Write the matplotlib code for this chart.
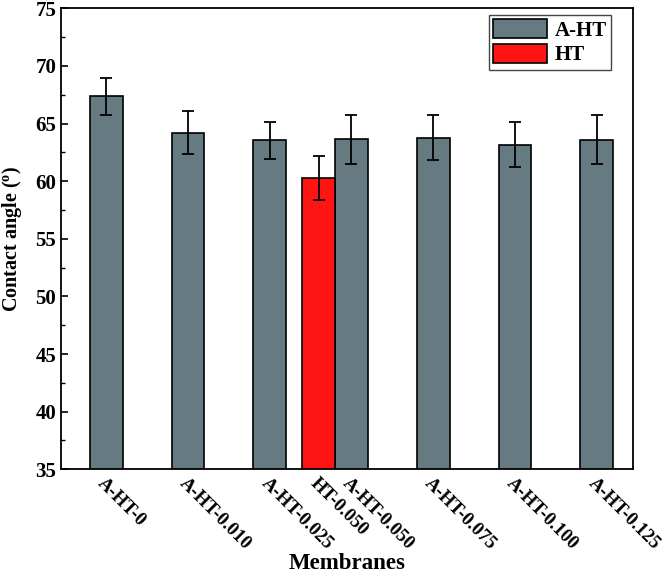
import matplotlib
matplotlib.use("Agg")
import matplotlib.pyplot as plt
from matplotlib.patches import Patch

plt.rcParams['font.family'] = ['Liberation Serif', 'DejaVu Serif']
plt.rcParams['font.weight'] = 'bold'
plt.rcParams['mathtext.fontset'] = 'custom'
plt.rcParams['mathtext.rm'] = 'Liberation Serif:bold'

# Data
a_ht_labels = ['A-HT-0', 'A-HT-0.010', 'A-HT-0.025', 'A-HT-0.050',
               'A-HT-0.075', 'A-HT-0.100', 'A-HT-0.125']
a_ht_values = [67.35, 64.2, 63.55, 63.63, 63.78, 63.15, 63.6]
a_ht_errors = [1.6, 1.88, 1.62, 2.1, 1.95, 1.96, 2.1]

ht_label = 'HT-0.050'
ht_value = 60.28
ht_error = 1.9
ht_slot = 3  # shares the slot of A-HT-0.050

gray = '#667a82'
red = '#ff1414'
width = 0.4

fig = plt.figure(figsize=(6.63, 5.73), dpi=100)
ax = fig.add_axes([0.092, 0.181, 0.863, 0.8045])

x = list(range(len(a_ht_labels)))
ax.bar(x, a_ht_values, width, yerr=a_ht_errors, color=gray, edgecolor='black',
       linewidth=1.2, error_kw=dict(elinewidth=1.3, capsize=4, capthick=1.3, ecolor='black'))
x_ht = ht_slot - width
ax.bar([x_ht], [ht_value], width, yerr=[ht_error], color=red, edgecolor='black',
       linewidth=1.2, error_kw=dict(elinewidth=1.3, capsize=4, capthick=1.3, ecolor='black'))

ax.set_ylim(35, 75)
ax.set_xlim(-0.554, 6.447)
ax.set_yticks(range(35, 76, 5))
ax.set_yticks([37.5 + 5 * i for i in range(8)], minor=True)
ax.tick_params(axis='y', which='both', direction='in', labelsize=15)
ax.tick_params(axis='y', which='major', length=5, width=1.2)
ax.tick_params(axis='y', which='minor', length=3, width=1.0)

ticks = x[:3] + [x_ht] + x[3:]
labels = a_ht_labels[:3] + [ht_label] + a_ht_labels[3:]
ax.set_xticks(ticks)
ax.set_xticklabels(labels, rotation=-45, ha='left', va='top',
                   rotation_mode='anchor', fontsize=13.5)
ax.tick_params(axis='x', length=0, pad=4)

for s in ax.spines.values():
    s.set_linewidth(1.3)

ax.set_ylabel('Contact angle ($\\mathregular{^{o}}$)', fontsize=14.5, fontweight='bold',
              labelpad=8)
ax.set_xlabel('Membranes', fontsize=16.5, fontweight='bold', va='center')
ax.xaxis.set_label_coords(0.5, -0.205)

handles = [Patch(facecolor=gray, edgecolor='black', linewidth=1.2, label='A-HT'),
           Patch(facecolor=red, edgecolor='black', linewidth=1.2, label='HT')]
leg = ax.legend(handles=handles, loc='upper right', bbox_to_anchor=(0.9615, 0.985),
                fancybox=False, framealpha=1, edgecolor='#444444',
                prop=dict(size=15, weight='bold'), handlelength=2.6, handleheight=1.0,
                borderpad=0.2, labelspacing=0.15, handletextpad=0.35, borderaxespad=0)
leg.get_frame().set_linewidth(1.0)

fig.savefig('out.png', dpi=100)
